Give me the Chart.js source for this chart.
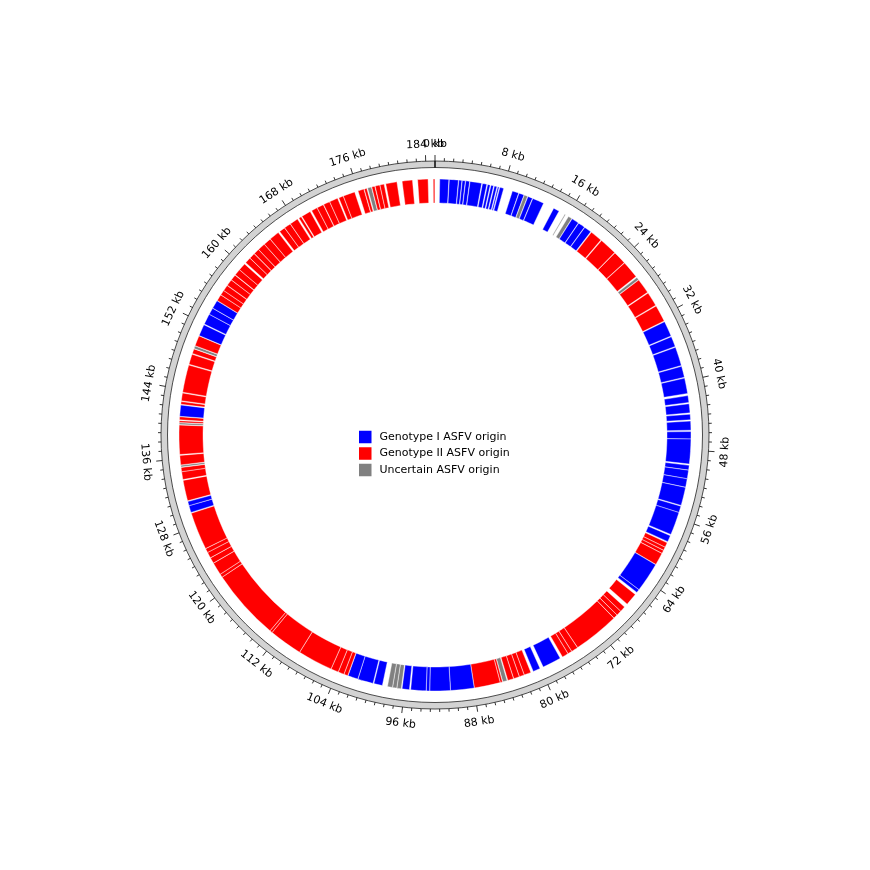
<!DOCTYPE html>
<html>
<head>
<meta charset="utf-8">
<script src="https://cdn.jsdelivr.net/npm/chart.js"></script>
<style>
  html, body { margin: 0; padding: 0; background: #fff; }
  #wrap { width: 870px; height: 870px; }
</style>
</head>
<body>
<div id="wrap"><canvas id="myChart" width="870" height="870"></canvas></div>
<script>
// genome size and gene blocks, in kb
const genomeLength = 185;

const geneStart = [
  0.55, 1.65, 2.75, 3.15, 3.55, 4.05, 5.5, 6.1, 6.5, 6.9, 7.3, 7.55,
  9.05, 9.85, 10.5, 10.95, 11.55, 14.2, 15.65, 16.15, 16.65, 17.55, 18.4,
  19.35, 20.85, 22.95, 24.55, 26.75, 27.1, 28.95, 30.7,
  32.75, 34.65, 35.95, 38.25, 39.65, 41.7, 42.65, 43.85, 44.65, 45.85, 46.72,
  49.75, 50.32, 51.32, 52.32, 54.55, 55.32, 58.15,
  59.05, 59.62, 60.02, 60.42, 61.9, 65.37,
  66.05, 67.95, 68.62, 69.22, 69.72, 75.12, 75.92, 76.42, 77.45, 80.05,
  81.2, 82.02, 82.62, 83.32, 84.1, 84.65, 84.92,
  87.97, 90.72, 93.12, 93.52, 95.45, 96.4, 96.92, 97.42, 98.6, 99.7, 101.52,
  102.75, 103.22, 103.92, 104.82, 108.92, 112.82, 113.12, 121.42, 121.82, 123.32, 124.02, 124.72, 125.22,
  129.7, 130.52, 131.1, 133.6, 134.52, 135.05, 135.3, 136.5, 139.95, 140.2, 140.5, 140.9,
  142.3, 142.7, 143.7, 147.0, 148.3, 148.9, 149.25, 150.5, 151.95, 153.22, 154.02,
  155.05, 155.82, 156.42, 157.15, 157.92, 158.65, 159.42, 160.5, 161.22, 161.95, 162.62, 163.52, 164.42,
  165.8, 166.52, 167.32, 168.5, 168.9, 170.2, 170.92, 171.75, 172.52, 173.65, 174.22,
  176.0, 176.75, 177.15, 177.65, 178.05, 178.62, 179.3, 181.2, 183.0, 184.8
];
const geneEnd = [
  1.6, 2.7, 3.1, 3.5, 4.0, 5.4, 6.0, 6.4, 6.8, 7.2, 7.45, 8.0,
  9.8, 10.45, 10.9, 11.5, 12.9, 14.9, 15.75, 16.6, 17.5, 18.35, 19.25,
  20.75, 22.9, 24.5, 26.6, 27.05, 28.85, 30.6, 32.65,
  34.55, 35.85, 38.15, 39.55, 41.45, 42.5, 43.7, 44.5, 45.7, 46.7, 49.6,
  50.3, 51.3, 52.3, 54.45, 55.3, 58.0, 58.9,
  59.6, 60.0, 60.4, 61.85, 65.35, 65.75,
  67.5, 68.6, 69.2, 69.7, 75.1, 75.9, 76.4, 77.15, 79.65, 80.9,
  82.0, 82.6, 83.3, 84.0, 84.6, 84.9, 87.95,
  90.7, 93.1, 93.5, 95.3, 96.3, 96.9, 97.4, 98.0, 99.6, 101.5, 102.7,
  103.2, 103.9, 104.8, 108.9, 112.8, 113.1, 121.4, 121.8, 123.3, 124.0, 124.7, 125.2, 129.6,
  130.5, 131.0, 133.5, 134.5, 135.0, 135.25, 136.4, 139.9, 140.15, 140.4, 140.85, 142.2,
  142.6, 143.6, 146.9, 148.2, 148.85, 149.2, 150.45, 151.85, 153.2, 154.0, 155.0,
  155.8, 156.4, 157.1, 157.9, 158.6, 159.4, 160.3, 161.2, 161.9, 162.6, 163.5, 164.4, 165.6,
  166.5, 167.3, 168.3, 168.8, 170.0, 170.9, 171.7, 172.5, 173.5, 174.2, 175.6,
  176.7, 177.05, 177.6, 178.0, 178.6, 179.1, 180.6, 182.4, 184.2, 184.98
];
// I = genotype I, II = genotype II, U = uncertain
const geneOrigin = [
  'I', 'I', 'I', 'I', 'I', 'I', 'I', 'I', 'I', 'I', 'I', 'I',
  'I', 'I', 'U', 'I', 'I', 'I', 'U', 'U', 'I', 'I', 'I',
  'II', 'II', 'II', 'II', 'U', 'II', 'II', 'II',
  'I', 'I', 'I', 'I', 'I', 'I', 'I', 'I', 'I', 'I', 'I',
  'I', 'I', 'I', 'I', 'I', 'I', 'I',
  'II', 'II', 'II', 'II', 'I', 'I',
  'II', 'II', 'II', 'II', 'II', 'II', 'II', 'II', 'I', 'I',
  'II', 'II', 'II', 'II', 'U', 'II', 'II',
  'I', 'I', 'I', 'I', 'I', 'U', 'U', 'U', 'I', 'I', 'I',
  'II', 'II', 'II', 'II', 'II', 'II', 'II', 'II', 'II', 'II', 'II', 'II', 'II',
  'I', 'I', 'II', 'II', 'II', 'U', 'II', 'II', 'U', 'II', 'II', 'I',
  'II', 'II', 'II', 'II', 'II', 'U', 'II', 'I', 'I', 'I', 'I',
  'II', 'II', 'II', 'II', 'II', 'II', 'II', 'II', 'II', 'II', 'II', 'II', 'II',
  'II', 'II', 'II', 'II', 'II', 'II', 'II', 'II', 'II', 'II', 'II',
  'II', 'II', 'U', 'II', 'II', 'II', 'II', 'II', 'II', 'II'
];

const originKeys = ['I', 'II', 'U'];
const originLabels = ['Genotype I ASFV origin', 'Genotype II ASFV origin', 'Uncertain ASFV origin'];
const originColors = ['#0000ff', '#ff0000', '#808080'];

const majorTicks = [0, 8, 16, 24, 32, 40, 48, 56, 64, 72, 80, 88, 96, 104, 112, 120, 128, 136, 144, 152, 160, 168, 176, 184];
const tickLabels = majorTicks.map(v => v + ' kb');
const minorStep = 1;

// turn gene blocks into doughnut slices, empty stretches are transparent
const segValues = [], segColors = [], segBorders = [];
let pos = 0;
geneStart.forEach((s, i) => {
  if (s > pos) {
    segValues.push(s - pos);
    segColors.push('rgba(0,0,0,0)');
    segBorders.push(0);
  }
  segValues.push(geneEnd[i] - s);
  segColors.push(originColors[originKeys.indexOf(geneOrigin[i])]);
  segBorders.push(0.4);
  pos = geneEnd[i];
});
if (pos < genomeLength) {
  segValues.push(genomeLength - pos);
  segColors.push('rgba(0,0,0,0)');
  segBorders.push(0);
}

const ringTicks = {
  id: 'ringTicks',
  afterDatasetsDraw(chart) {
    const arc = chart.getDatasetMeta(0).data[0];
    const cx = arc.x, cy = arc.y, r0 = arc.outerRadius, rIn = arc.innerRadius;
    const c = chart.ctx;
    c.save();
    c.strokeStyle = '#000';
    c.lineWidth = 0.8;
    for (let kb = 0; kb < genomeLength; kb += minorStep) {
      const a = kb / genomeLength * 2 * Math.PI;
      const major = majorTicks.includes(kb);
      const r1 = kb === 0 ? rIn : r0;
      const r2 = r0 + (major ? 6 : 3);
      c.beginPath();
      c.moveTo(cx + r1 * Math.sin(a), cy - r1 * Math.cos(a));
      c.lineTo(cx + r2 * Math.sin(a), cy - r2 * Math.cos(a));
      c.stroke();
    }
    c.fillStyle = '#000';
    c.font = '11px "DejaVu Sans"';
    c.textAlign = 'center';
    c.textBaseline = 'middle';
    const rl = r0 + 16.5;
    majorTicks.forEach((kb, i) => {
      const deg = kb / genomeLength * 360;
      const a = deg * Math.PI / 180;
      let rot = a;
      if (deg > 90 && deg < 270) rot += Math.PI;
      c.save();
      c.translate(cx + rl * Math.sin(a), cy - rl * Math.cos(a));
      c.rotate(rot);
      c.fillText(tickLabels[i], 0, 0);
      c.restore();
    });
    c.restore();
  }
};

const centerLegend = {
  id: 'centerLegend',
  afterDraw(chart) {
    const arc = chart.getDatasetMeta(0).data[0];
    const c = chart.ctx;
    const x0 = arc.x - 76, y0 = arc.y + 2;
    c.save();
    c.font = '11px "DejaVu Sans"';
    c.textBaseline = 'middle';
    c.textAlign = 'left';
    originLabels.forEach((lab, i) => {
      const yc = y0 + i * 16.5;
      c.fillStyle = originColors[i];
      c.fillRect(x0, yc - 6.25, 12.5, 12.5);
      c.fillStyle = '#000';
      c.fillText(lab, x0 + 20.5, yc);
    });
    c.restore();
  }
};

const ctx = document.getElementById('myChart').getContext('2d');
new Chart(ctx, {
  type: 'doughnut',
  data: {
    datasets: [
      { data: [genomeLength], backgroundColor: '#d3d3d3', borderColor: '#222', borderWidth: 0.8, weight: 6.5 },
      { data: [genomeLength], backgroundColor: 'rgba(0,0,0,0)', borderWidth: 0, weight: 11.5 },
      { data: segValues, backgroundColor: segColors, borderColor: '#fff', borderWidth: segBorders, weight: 24 }
    ]
  },
  options: {
    responsive: false,
    animation: false,
    events: [],
    radius: 274,
    cutout: (232 / 274 * 100) + '%',
    layout: { padding: 0 },
    plugins: {
      legend: { display: false },
      tooltip: { enabled: false }
    }
  },
  plugins: [ringTicks, centerLegend]
});
</script>
</body>
</html>
